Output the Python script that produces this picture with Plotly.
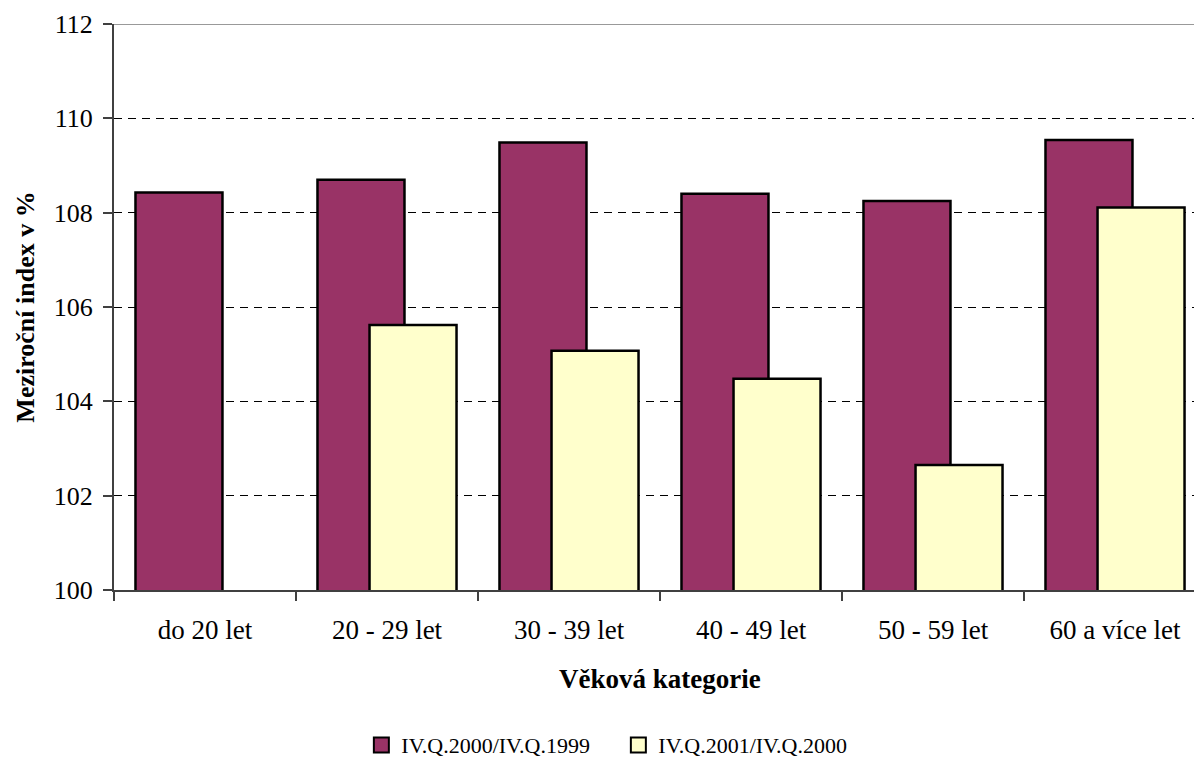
import plotly.graph_objects as go

categories = ["do 20 let", "20 - 29 let", "30 - 39 let", "40 - 49 let", "50 - 59 let", "60 a více let"]
series_2000 = [108.43, 108.70, 109.49, 108.40, 108.25, 109.54]
series_2001 = [None, 105.62, 105.07, 104.48, 102.65, 108.11]
name_2000 = "IV.Q.2000/IV.Q.1999"
name_2001 = "IV.Q.2001/IV.Q.2000"
y_ticks = [100, 102, 104, 106, 108, 110, 112]
x_title = "Věková kategorie"
y_title = "Meziroční index v %"

PURPLE = "#993366"
YELLOW = "#FFFFCC"
FONT = "Liberation Serif"

fig = go.Figure()
fig.add_trace(go.Bar(x=categories, y=series_2000, name=name_2000, width=0.478, offset=-0.382,
                     marker=dict(color=PURPLE, line=dict(color="black", width=2.5)), showlegend=False))
fig.add_trace(go.Bar(x=categories, y=series_2001, name=name_2001, width=0.478, offset=-0.096,
                     marker=dict(color=YELLOW, line=dict(color="black", width=2.5)), showlegend=False))
# legend entries
for nm, col in [(name_2000, PURPLE), (name_2001, YELLOW)]:
    fig.add_trace(go.Scatter(x=[None], y=[None], mode="markers", name=nm,
                             marker=dict(symbol="square", size=15, color=col,
                                         line=dict(color="black", width=2))))

fig.update_layout(
    width=1194, height=758,
    margin=dict(l=114, r=0, t=24, b=168, autoexpand=False),
    paper_bgcolor="white", plot_bgcolor="white",
    barmode="overlay",
    font=dict(family=FONT, size=26, color="black"),
    showlegend=True,
    legend=dict(orientation="h", x=0.467, xanchor="center", y=-0.274, yanchor="middle",
                font=dict(family=FONT, size=22, color="black"), itemsizing="trace",
                traceorder="normal", itemwidth=30, entrywidth=212),
    shapes=[dict(type="line", xref="paper", yref="y", x0=0, x1=1, y0=112, y1=112,
                 line=dict(color="#999999", width=2), layer="above")],
    annotations=[dict(text="<b>" + x_title + "</b>", xref="paper", yref="paper",
                      x=0.5056, y=-0.157, xanchor="center", yanchor="middle", showarrow=False,
                      font=dict(family=FONT, size=27, color="black"))],
)
fig.update_xaxes(
    type="category", range=[-0.5, 5.434], tickson="boundaries",
    ticks="outside", ticklen=9, tickwidth=1.5, tickcolor="#404040",
    showline=True, linecolor="#404040", linewidth=2, showgrid=False,
    tickfont=dict(family=FONT, size=27), ticklabelstandoff=15,
)
fig.update_yaxes(
    range=[100, 112], tickvals=y_ticks, ticks="outside", ticklen=9, tickwidth=1.5, tickcolor="#404040",
    showline=True, linecolor="#404040", linewidth=2,
    showgrid=True, gridcolor="black", gridwidth=1, griddash="8px,6px", zeroline=False,
    tickfont=dict(family=FONT, size=26), ticklabelstandoff=5,
    title=dict(text="<b>" + y_title + "</b>", font=dict(family=FONT, size=26), standoff=12),
)

fig.write_html("out.html", config={"displayModeBar": False},
               post_script="document.body.style.margin='0';document.body.style.overflow='hidden';")
